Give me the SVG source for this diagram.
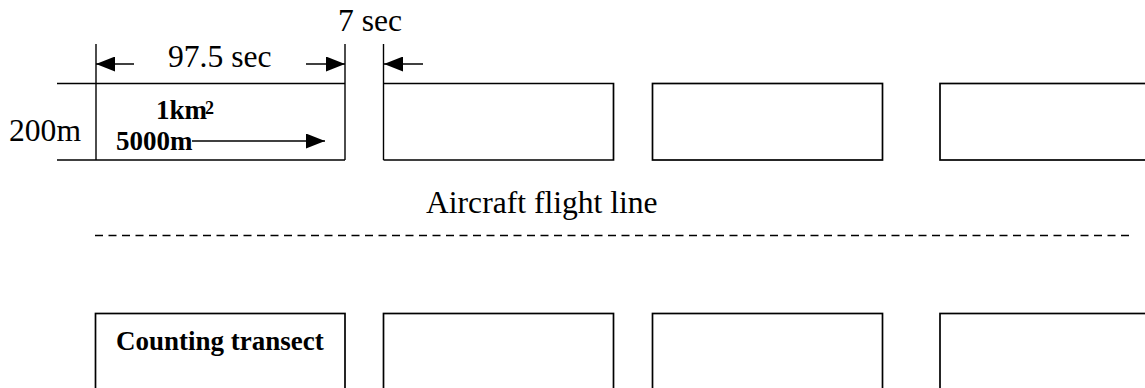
<svg xmlns="http://www.w3.org/2000/svg" width="1145" height="388" viewBox="0 0 1145 388">
<style>
.box{fill:none;stroke:#000;stroke-width:1.7}
.ln{fill:none;stroke:#000;stroke-width:1.4}
.t{font-family:"Liberation Serif","Times New Roman",serif;font-size:31.6px;fill:#000}
.b{font-family:"Liberation Serif","Times New Roman",serif;font-size:27px;font-weight:bold;fill:#000}
</style>
<defs>
<marker id="ah" markerWidth="19" markerHeight="15" refX="19" refY="7.5" orient="auto" markerUnits="userSpaceOnUse">
<path d="M0,0 L19,7.5 L0,15 Z" fill="#000"/>
</marker>
</defs>
<rect width="1145" height="388" fill="#fff"/>
<g id="top-row">
<g id="cell-1">
<line class="ln" x1="57" y1="83.5" x2="345" y2="83.5"/>
<line class="ln" x1="57" y1="160" x2="345" y2="160"/>
<line class="ln" x1="96" y1="44" x2="96" y2="160"/>
<line class="ln" x1="345" y1="44" x2="345" y2="160"/>
<text class="b" x="156" y="119">1km</text>
<text class="b" x="205" y="114" style="font-size:18px">2</text>
<text class="b" x="116" y="150">5000m</text>
</g>
<g id="cell-2">
<line class="ln" x1="383.5" y1="44" x2="383.5" y2="160"/>
<polyline class="box" points="383.5,83.5 613.5,83.5 613.5,160 383.5,160"/>
</g>
<rect id="cell-3" class="box" x="652.5" y="83.5" width="230" height="76.5"/>
<rect id="cell-4" class="box" x="940" y="83.5" width="220" height="76.5"/>
</g>
<g id="labels">
<text class="t" x="338" y="31">7 sec</text>
<text class="t" x="168" y="67">97.5 sec</text>
<text class="t" x="9" y="141">200m</text>
<text class="t" x="426" y="213">Aircraft flight line</text>
</g>
<g id="bottom-row">
<g id="transect-1">
<rect class="box" x="95.5" y="313.5" width="249.5" height="90"/>
<text class="b" x="116" y="350">Counting transect</text>
</g>
<rect id="transect-2" class="box" x="383.5" y="313.5" width="230" height="90"/>
<rect id="transect-3" class="box" x="652.5" y="313.5" width="230" height="90"/>
<rect id="transect-4" class="box" x="940" y="313.5" width="220" height="90"/>
</g>
<g id="connectors">
<line class="ln" x1="134" y1="64" x2="96" y2="64" marker-end="url(#ah)"/>
<line class="ln" x1="306" y1="64" x2="345" y2="64" marker-end="url(#ah)"/>
<line class="ln" x1="423" y1="64" x2="384" y2="64" marker-end="url(#ah)"/>
<line class="ln" x1="192" y1="141" x2="325" y2="141" marker-end="url(#ah)"/>
<line class="ln" x1="95" y1="235.5" x2="1133" y2="235.5" stroke-dasharray="8 5.5"/>
</g>
</svg>
